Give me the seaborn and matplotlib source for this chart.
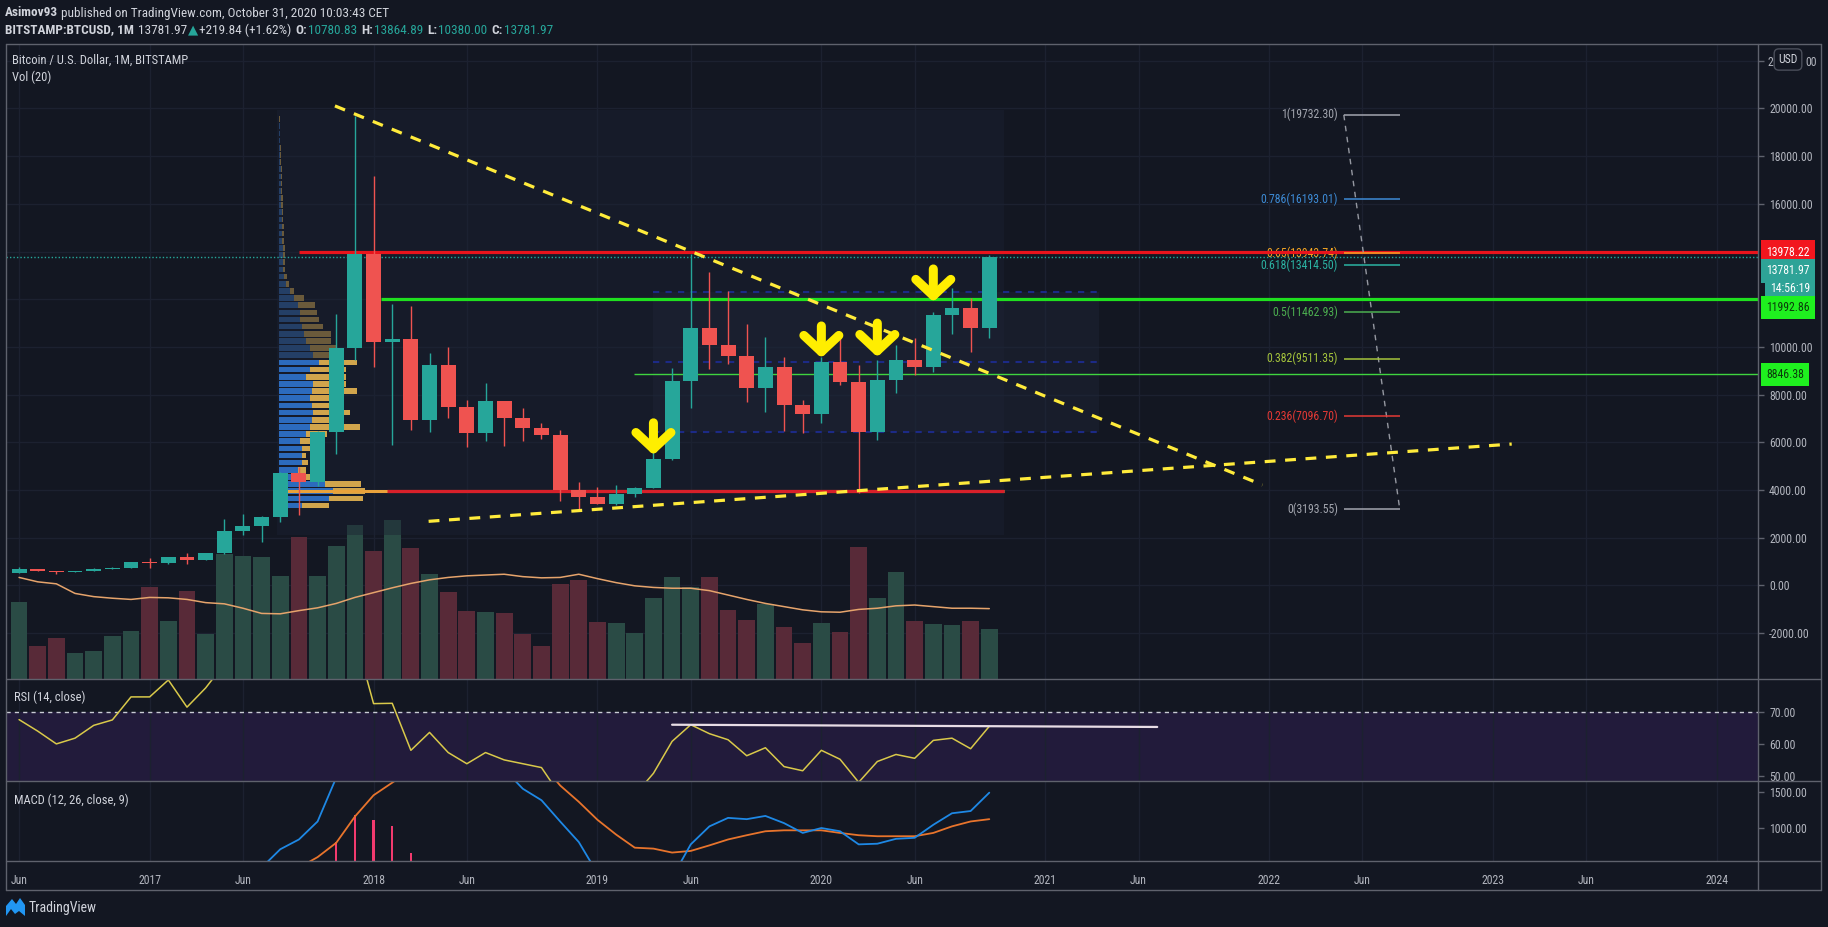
import numpy as np
import pandas as pd
import matplotlib
matplotlib.use("Agg")
import matplotlib.pyplot as plt
import matplotlib.transforms as mtransforms
from matplotlib import font_manager
from matplotlib.lines import Line2D
from matplotlib.patches import Rectangle, Polygon
from matplotlib.ticker import FuncFormatter
import seaborn as sns

# -----------------------------
# Monthly candles, Jun 2016 .. Oct 2020 (BITSTAMP:BTCUSD, 1M)
# -----------------------------
OPEN = [531, 673, 624, 575, 609, 700, 742, 966, 962, 1190, 1080, 1348, 2300, 2480, 2870, 4730,
        4340, 6450, 9950, 13880, 10220, 10330, 6930, 9240, 7500, 6390, 7730, 7010, 6600, 6300,
        4020, 3690, 3430, 3820, 4100, 5320, 8560, 10800, 10080, 9600, 8300, 9150, 7550, 7200,
        9350, 8540, 6420, 8630, 9450, 9140, 11350, 11650, 10780.83]
HIGH = [780, 704, 626, 628, 720, 755, 975, 1150, 1200, 1350, 1350, 2790, 2990, 2920, 4760, 4980,
        6470, 11400, 19666, 17170, 11790, 11700, 9760, 9990, 7760, 8490, 7750, 7430, 6800, 6520,
        4350, 4110, 4200, 4140, 5640, 9110, 13880, 13150, 12350, 10950, 10420, 9570, 7780, 9580,
        10500, 9250, 9470, 10080, 10380, 11450, 12480, 12070, 13864.89]
LOW = [505, 605, 480, 570, 600, 680, 742, 750, 920, 890, 1060, 1340, 2100, 1830, 2670, 2970,
       4150, 5500, 9450, 9170, 5890, 6520, 6440, 7020, 5810, 6070, 5850, 6070, 6150, 3550,
       3166, 3400, 3380, 3700, 4070, 5250, 7440, 9080, 9290, 7710, 7290, 6490, 6410, 6810,
       8410, 3880, 6100, 8070, 8830, 8930, 10530, 9800, 10380.00]
CLOSE = [673, 624, 575, 609, 700, 742, 966, 962, 1190, 1080, 1348, 2300, 2480, 2870, 4730, 4340,
         6450, 9950, 13880, 10220, 10330, 6930, 9240, 7500, 6390, 7730, 7010, 6600, 6300, 4020,
         3690, 3430, 3820, 4100, 5320, 8560, 10800, 10080, 9600, 8300, 9150, 7550, 7200, 9350,
         8540, 6420, 8630, 9450, 9140, 11350, 11650, 10780.83, 13781.97]

# volume (thousand BTC) and its 20-period average
VOLUME = [193, 83, 103, 66, 70, 108, 121, 231, 146, 221, 113, 313, 308, 306, 258, 356, 258, 333,
          386, 321, 398, 328, 263, 218, 171, 168, 166, 113, 83, 238, 248, 143, 140, 116, 203, 255,
          229, 255, 173, 148, 188, 131, 91, 140, 118, 330, 203, 268, 146, 138, 135, 146, 126]
VOL_MA = [254, 243, 238, 214, 206, 202, 199, 204, 203, 199, 191, 188, 177, 164, 163, 171, 178, 189,
          204, 216, 228, 239, 248, 254, 258, 260, 262, 256, 253, 254, 262, 251, 241, 233, 229, 227,
          227, 221, 210, 199, 189, 181, 173, 168, 167, 174, 177, 183, 185, 181, 177, 177, 176]

# RSI (14, close)
RSI = [67.6, 64, 60, 61.8, 65.8, 67.5, 74.7, 74.7, 80, 71.5, 77.5, 85, 86, 84, 89, 84, 88, 93, 94,
       72.6, 72.7, 58, 63.6, 57.3, 53.8, 57.3, 55, 53.8, 52.6, 44, 38, 36, 40, 44, 50.8, 60.8, 66,
       63.2, 61.3, 56.3, 58.8, 52.9, 51.6, 58, 55.2, 48, 54.5, 56.7, 55.5, 61.1, 61.8, 58.5, 65.5]

# MACD (12, 26, close, 9)
MACD = [60, 65, 60, 55, 55, 60, 75, 90, 110, 130, 165, 240, 330, 450, 705, 841, 1091, 1700, 2950,
        3150, 3050, 2850, 2650, 2450, 2200, 2000, 1815, 1545, 1386, 1091, 805, 370, 200, 140, 180,
        311, 773, 1023, 1141, 1123, 1168, 1068, 932, 1000, 955, 773, 782, 850, 864, 1045, 1205,
        1236, 1491]
SIGNAL = [62, 62, 60, 58, 58, 60, 65, 75, 85, 95, 110, 140, 190, 260, 350, 450, 596, 795, 1159,
          1455, 1630, 1800, 1950, 2050, 2100, 2100, 2080, 2000, 1900, 1591, 1364, 1114, 909, 727,
          714, 659, 682, 759, 841, 900, 955, 968, 968, 968, 932, 900, 886, 886, 886, 932, 1023,
          1091, 1123]
HIST = [0, 3, 0, -3, -3, 0, 10, 15, 25, 35, 55, 100, 140, 190, 355, 391, 495, 805, 1182, 1114,
        1023, 650, 450, 300, 150, -100, -265, -455, -514, -500, -559, -744, -709, -587, -534,
        -348, 91, 264, 300, 223, 213, 100, -36, 32, 23, -127, -104, -36, -22, 113, 182, 145, 368]

# fixed range volume profile rows (price level, up volume, down volume)
PROFILE_PRICE = [3350, 3650, 3950, 4250, 4550, 4850, 5150, 5450, 5750, 6050, 6350, 6650, 6950,
                 7250, 7550, 7850, 8150, 8450, 8750, 9050, 9350, 9650, 9950, 10250, 10550, 10850,
                 11150, 11450, 11750, 12050, 12350, 12650, 12950, 13250, 13550, 13850, 14150,
                 14450, 14750, 15050, 15350, 15650, 15950, 16250, 16550, 16850, 17150, 17450,
                 17750, 18050, 18350, 18650, 18950, 19250, 19550]
PROFILE_UP = [23, 50, 54, 46, 23, 19, 23, 23, 23, 21, 27, 31, 33, 34, 33, 31, 33, 34, 27, 31, 40,
              34, 31, 27, 25, 23, 21, 21, 19, 15, 11, 7, 5, 4, 4, 4, 4, 3.5, 3.5, 3, 3, 3, 2.5,
              2.5, 2, 2, 2, 2, 1.5, 1.5, 1.5, 1, 1, 1, 0.5]
PROFILE_DOWN = [27, 34, 32, 36, 15, 8, 6, 4, 8, 12, 21, 50, 32, 37, 32, 26, 45, 33, 40, 36, 38,
                31, 26, 25, 27, 21, 19, 17, 17, 10, 4, 3, 3, 2.5, 2.5, 2, 2, 2, 1.5, 2, 1.5, 1.5,
                1.5, 1.5, 1.5, 1.5, 1, 1, 1, 1, 0.5, 0.5, 0.5, 0.5, 0.5]

# Fibonacci retracement
FIB_RATIOS = ["1", "0.786", "0.65", "0.618", "0.5", "0.382", "0.236", "0"]
FIB_PRICES = [19732.30, 16193.01, 13943.74, 13414.50, 11462.93, 9511.35, 7096.70, 3193.55]

# horizontal levels
RESIST_RED = 13978.22
SUPPORT_GREEN = 11992.86
SUPPORT_GREEN_2 = 8846.38
SUPPORT_RED = 3960
LAST_PRICE = 13781.97

# arrows (month index, top price, tip price)
ARROW_MONTH = [34, 43, 46, 49]
ARROW_TOP = [6820, 10880, 11000, 13270]
ARROW_TIP = [5470, 9540, 9580, 11890]

# time axis
TICK_POS = [0, 7, 12, 19, 24, 31, 36, 43, 48, 55, 60, 67, 72, 79, 84, 91]
TICK_LABELS = ["Jun", "2017", "Jun", "2018", "Jun", "2019", "Jun", "2020", "Jun", "2021", "Jun",
               "2022", "Jun", "2023", "Jun", "2024"]
PRICE_TICKS = [22000, 20000, 18000, 16000, 10000, 8000, 6000, 4000, 2000, 0, -2000]

# -----------------------------
# Style
# -----------------------------
W, H = 1828, 927
BG = "#131722"
TEXT = "#d1d4dc"
AXIS_TEXT = "#b2b5be"
GRID = "#1c2130"
FRAME = "#5f626d"
UP = "#26a69a"
DOWN = "#ef5350"
YELLOW = "#ffeb3b"
FIB_COLORS = ["#a3a6af", "#3d8bd6", "#f5a623", "#2bb3a3", "#4caf50", "#a5c43c", "#e53935", "#a3a6af"]

sns.set_theme(style="dark")
available = {f.name for f in font_manager.fontManager.ttflist}
main_font = next((f for f in ["Liberation Sans Narrow", "Roboto Condensed", "Roboto"]
                  if f in available), "DejaVu Sans")
plt.rcParams["font.family"] = [main_font, "DejaVu Sans"]
plt.rcParams["axes.unicode_minus"] = False

df = pd.DataFrame({"month": np.arange(len(CLOSE)), "open": OPEN, "high": HIGH, "low": LOW,
                   "close": CLOSE, "volume": VOLUME, "vol_ma": VOL_MA, "rsi": RSI,
                   "macd": MACD, "signal": SIGNAL, "hist": HIST})
df["dir"] = np.where(df["close"] >= df["open"], "up", "down")
candle_colors = np.where(df["dir"] == "up", UP, DOWN)

XLIM = (-0.7, 93.2)

fig = plt.figure(figsize=(W / 100, H / 100), dpi=100, facecolor=BG)


def axes_px(l, t, r, b):
    return fig.add_axes([l / W, 1 - b / H, (r - l) / W, (b - t) / H])


ax_vol = axes_px(6, 44, 1758, 679)
ax = axes_px(6, 44, 1758, 679)
ax_rsi = axes_px(6, 679, 1758, 781)
ax_macd = axes_px(6, 781, 1758, 861)

for a in (ax_vol, ax, ax_rsi, ax_macd):
    a.set_xlim(*XLIM)
    for s in a.spines.values():
        s.set_visible(False)
    a.set_xticks(TICK_POS)
    a.tick_params(axis="x", length=0, labelbottom=False)
ax.set_facecolor("none")
for a in (ax_vol, ax_rsi, ax_macd):
    a.set_facecolor(BG)
    a.set_axisbelow(True)
    a.grid(axis="x", color=GRID, lw=1)
    a.grid(axis="y", visible=False)
ax.grid(False)

PRICE_LIM = (-3920, 22700)
ax.set_ylim(*PRICE_LIM)

# -----------------------------
# Volume pane (bottom of main)
# -----------------------------
sns.barplot(data=df, x="month", y="volume", hue="dir", native_scale=True, dodge=False,
            palette={"up": "#2a4b45", "down": "#582a38"}, width=0.9, errorbar=None,
            legend=False, ax=ax_vol, zorder=2, edgecolor="none", linewidth=0, saturation=1)
sns.lineplot(x=df["month"], y=df["vol_ma"], color="#e6a46c", lw=1.1, ax=ax_vol, zorder=3)
trans_price = mtransforms.blended_transform_factory(ax_vol.transAxes, ax.transData)
for p in range(-2000, 22001, 2000):
    ax_vol.add_line(Line2D([0, 1], [p, p], transform=trans_price, color=GRID, lw=1, zorder=0))
ax_vol.set_xlim(*XLIM)
ax_vol.set_ylim(0, max(VOLUME) * 3.99)
ax_vol.set_yticks([])
ax_vol.set_xlabel("")
ax_vol.set_ylabel("")

# -----------------------------
# Main pane drawings
# -----------------------------
ax.add_patch(Rectangle((13.8, 2100), 39.0, 17850, fc="#1b2233", alpha=0.45, lw=0, zorder=0.5))
ax.add_patch(Rectangle((34.0, 6415), 23.9, 5870, fc="#1f2638", alpha=0.45, lw=0, zorder=0.6))
ax.hlines([12285, 9350, 6415], 34.0, 57.9, colors="#1c2a86", linestyles=(0, (3, 3)), lw=1.5,
          zorder=1.5)

# volume profile
prof_base = 13.93
prof_scale = (86 / 18.66) / max(u + d for u, d in zip(PROFILE_UP, PROFILE_DOWN))
in_va = np.array(PROFILE_PRICE) <= 9450
up_w = np.array(PROFILE_UP) * prof_scale
dn_w = np.array(PROFILE_DOWN) * prof_scale
ax.barh(PROFILE_PRICE, up_w, left=prof_base, height=235,
        color=np.where(in_va, "#2c6bbd", "#243f66"), lw=0, zorder=1)
ax.barh(PROFILE_PRICE, dn_w, left=prof_base + up_w, height=235,
        color=np.where(in_va, "#d1a54c", "#6a5a3b"), lw=0, zorder=1)
poc = PROFILE_PRICE[int(np.argmax(up_w + dn_w))]
ax.hlines(poc, prof_base, 52.8, color="#e9a23b", lw=2.2, zorder=1.8)

# horizontal levels
ax.hlines(SUPPORT_RED, 19.7, 52.8, color="#d8202a", lw=2.3, zorder=2)
ax.hlines(RESIST_RED, 14.98, XLIM[1], color="#e8141c", lw=2.3, zorder=2)
ax.hlines(SUPPORT_GREEN, 19.4, XLIM[1], color="#1fe01f", lw=2.3, zorder=2)
ax.hlines(SUPPORT_GREEN_2, 32.96, XLIM[1], color="#3fd43f", lw=1.0, zorder=2)
ax.hlines(LAST_PRICE, XLIM[0], XLIM[1], color=UP, linestyles=(0, (1, 1.5)), lw=1, zorder=2)

# candles
ax.vlines(df["month"], df["low"], df["high"], colors=candle_colors, lw=1, zorder=5)
ax.bar(df["month"], (df["close"] - df["open"]).abs(), bottom=df[["open", "close"]].min(axis=1),
       width=0.8, color=candle_colors, lw=0, zorder=6)

# trend lines
ax.plot([16.93, 66.64], [20105, 4214], color=YELLOW, lw=2.3, dashes=(3.4, 3.0), zorder=7)
ax.plot([21.95, 80.0], [2690, 5930], color=YELLOW, lw=2.3, dashes=(3.4, 3.0), zorder=7)

# fibonacci
FIB_START, FIB_END = 71.0, 74.0
ax.plot([FIB_START, FIB_END], [FIB_PRICES[0], FIB_PRICES[-1]], color="#9598a1",
        ls=(0, (4, 4)), lw=1, zorder=7)
for r, p, c in zip(FIB_RATIOS, FIB_PRICES, FIB_COLORS):
    ax.hlines(p, FIB_START, FIB_END, color=c, lw=1.1, zorder=7)
    ax.annotate(f"{r}({p:.2f})", xy=(FIB_START, p), xytext=(-4, 0), textcoords="offset points",
                ha="right", va="center", color=c, fontsize=8.5, zorder=1.9)

# arrows
for m, top, tip in zip(ARROW_MONTH, ARROW_TOP, ARROW_TIP):
    ax.annotate("", xy=(m, tip), xytext=(m, top),
                arrowprops=dict(arrowstyle="->,head_length=0.42,head_width=0.45",
                                color="#ffee00", lw=6.5, capstyle="round", joinstyle="round",
                                shrinkA=0, shrinkB=0, mutation_scale=28), zorder=8)

# price axis (the top 22000 label sits behind the USD button)
ax.yaxis.tick_right()
ax.set_yticks(PRICE_TICKS)
ax.yaxis.set_major_formatter(FuncFormatter(lambda v, _: "" if v > 21000 else f"{v:.2f}"))
ax.tick_params(axis="y", length=4, width=1, color=FRAME, labelcolor=AXIS_TEXT,
               labelsize=8.5, pad=4)


def price_tag(y, text, fc, tc, dy=0, dx=0):
    base = mtransforms.blended_transform_factory(ax.transAxes, ax.transData)
    tr = mtransforms.offset_copy(base, fig=fig, x=(8 + dx) * 0.72, y=-dy * 0.72, units="points")
    ax.text(1.0, y, text, transform=tr, ha="left", va="center", color=tc, fontsize=8.5,
            bbox=dict(boxstyle="square,pad=0.45", fc=fc, ec="none"), clip_on=False, zorder=20)


price_tag(RESIST_RED, f"{RESIST_RED:.2f}", "#f2161e", "white")
price_tag(LAST_PRICE, f"{LAST_PRICE:.2f}", "#2ea397", "white", dy=14)
price_tag(LAST_PRICE, "14:56:19", "#2ea397", "white", dy=32, dx=4)
price_tag(SUPPORT_GREEN, f"{SUPPORT_GREEN:.2f}", "#1ff01f", "#0b3a0b", dy=8)
price_tag(SUPPORT_GREEN_2, f"{SUPPORT_GREEN_2:.2f}", "#1ff01f", "#0b3a0b")

# -----------------------------
# RSI pane
# -----------------------------
ax_rsi.axhspan(30, 70, color="#221b3b", zorder=0.5, lw=0)
ax_rsi.axhline(70, color="#c9ccd4", ls=(0, (3, 3)), lw=1, zorder=1)
sns.lineplot(x=df["month"], y=df["rsi"], color="#d9c94a", lw=1.1, ax=ax_rsi, zorder=3)
ax_rsi.plot([35.0, 61.0], [66.0, 65.3], color="#e8dde5", lw=1.6, zorder=4)
ax_rsi.set_ylim(48.4, 80.3)
ax_rsi.yaxis.tick_right()
ax_rsi.set_yticks([70, 60, 50])
ax_rsi.yaxis.set_major_formatter(FuncFormatter(lambda v, _: f"{v:.2f}"))
ax_rsi.tick_params(axis="y", length=4, width=1, color=FRAME, labelcolor=AXIS_TEXT,
                   labelsize=8.5, pad=4)
ax_rsi.set_xlabel("")
ax_rsi.set_ylabel("")

# -----------------------------
# MACD pane
# -----------------------------
ax_macd.bar(df["month"], df["hist"], width=0.12, color="#f23a6e", lw=0, zorder=2)
sns.lineplot(x=df["month"], y=df["signal"], color="#e8742c", lw=1.3, ax=ax_macd, zorder=3)
sns.lineplot(x=df["month"], y=df["macd"], color="#1e88e5", lw=1.3, ax=ax_macd, zorder=4)
ax_macd.set_ylim(542, 1653)
ax_macd.set_xlim(*XLIM)
ax_macd.yaxis.tick_right()
ax_macd.set_yticks([1500, 1000])
ax_macd.yaxis.set_major_formatter(FuncFormatter(lambda v, _: f"{v:.2f}"))
ax_macd.tick_params(axis="y", length=4, width=1, color=FRAME, labelcolor=AXIS_TEXT,
                    labelsize=8.5, pad=4)
ax_macd.set_xticks(TICK_POS)
ax_macd.set_xticklabels(TICK_LABELS)
ax_macd.tick_params(axis="x", length=4, width=1, color=FRAME, labelcolor=AXIS_TEXT,
                    labelsize=8.5, pad=5, labelbottom=True)
ax_macd.set_xlabel("")
ax_macd.set_ylabel("")

# -----------------------------
# Frame, legends, header
# -----------------------------
def line_px(x0, y0, x1, y1, color=FRAME, lw=1):
    fig.add_artist(Line2D([x0 / W, x1 / W], [1 - y0 / H, 1 - y1 / H],
                          transform=fig.transFigure, color=color, lw=lw))


line_px(6, 44, 1821, 44)
line_px(6, 890, 1821, 890)
line_px(6, 44, 6, 890)
line_px(1821, 44, 1821, 890)
line_px(1758, 44, 1758, 890)
for yy in (679, 781, 861):
    line_px(6, yy, 1821, yy)


def text_px(x, y, s, **kw):
    kw.setdefault("color", TEXT)
    kw.setdefault("fontsize", 9)
    kw.setdefault("ha", "left")
    return fig.text(x / W, 1 - y / H, s, va="center", **kw)


text_px(12, 60, "Bitcoin / U.S. Dollar, 1M, BITSTAMP")
text_px(12, 77, "Vol (20)")
text_px(14, 697, "RSI (14, close)")
text_px(14, 800, "MACD (12, 26, close, 9)")

# USD button with the clipped 22000.00 label peeking out on both sides
text_px(1767, 62, "2", color=AXIS_TEXT, fontsize=8.5)
text_px(1805, 62, "00", color=AXIS_TEXT, fontsize=8.5)
text_px(1788, 59.5, "USD", fontsize=8.5, ha="center",
        bbox=dict(boxstyle="round,pad=0.35,rounding_size=0.4", fc=BG, ec="#4a4e5a", lw=1))

renderer = fig.canvas.get_renderer()


def draw_runs(x, y, runs, size=9.5):
    for s, color, weight, gap in runs:
        x += gap
        t = text_px(x, y, s, color=color, fontweight=weight, fontsize=size)
        x = t.get_window_extent(renderer).x1


draw_runs(5, 13, [("Asimov93", TEXT, "bold", 0),
                  ("published on TradingView.com, October 31, 2020 10:03:43 CET", TEXT, "normal", 3)])
draw_runs(5, 30, [("BITSTAMP:BTCUSD, 1M", TEXT, "bold", 0),
                  ("13781.97", TEXT, "normal", 4),
                  ("\u25b2", UP, "normal", 1),
                  ("+219.84 (+1.62%)", TEXT, "normal", 1),
                  ("O:", TEXT, "bold", 4), ("10780.83", UP, "normal", 1),
                  ("H:", TEXT, "bold", 4), ("13864.89", UP, "normal", 1),
                  ("L:", TEXT, "bold", 4), ("10380.00", UP, "normal", 1),
                  ("C:", TEXT, "bold", 4), ("13781.97", UP, "normal", 1)])

# TradingView logo
logo = [(6, 916), (6, 906), (12, 899), (16, 904), (20, 898), (25, 905), (25, 916), (19, 911),
        (15, 914), (11, 909)]
fig.add_artist(Polygon([(x / W, 1 - y / H) for x, y in logo], closed=True,
                       transform=fig.transFigure, fc="#2196f3", ec="none"))
text_px(29, 908, "TradingView", fontsize=10)

fig.savefig("out.png", dpi=100, facecolor=BG)
